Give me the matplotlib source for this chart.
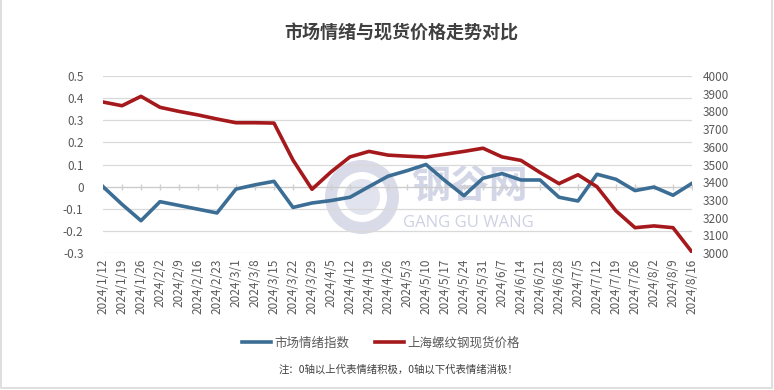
import matplotlib
matplotlib.use("Agg")
import matplotlib.pyplot as plt
from matplotlib.patches import Circle, Wedge
import numpy as np

plt.rcParams['font.family'] = ['Noto Sans CJK SC', 'DejaVu Sans']

dates = ["2024/1/12", "2024/1/19", "2024/1/26", "2024/2/2", "2024/2/9", "2024/2/16",
         "2024/2/23", "2024/3/1", "2024/3/8", "2024/3/15", "2024/3/22", "2024/3/29",
         "2024/4/5", "2024/4/12", "2024/4/19", "2024/4/26", "2024/5/3", "2024/5/10",
         "2024/5/17", "2024/5/24", "2024/5/31", "2024/6/7", "2024/6/14", "2024/6/21",
         "2024/6/28", "2024/7/5", "2024/7/12", "2024/7/19", "2024/7/26", "2024/8/2",
         "2024/8/9", "2024/8/16"]

sentiment = [0.0, -0.08, -0.154, -0.068, -0.085, -0.102, -0.119, -0.011, 0.008, 0.024,
             -0.094, -0.074, -0.063, -0.048, 0.0, 0.047, 0.072, 0.100, 0.027, -0.041,
             0.038, 0.059, 0.030, 0.030, -0.048, -0.065, 0.056, 0.033, -0.018, -0.002,
             -0.039, 0.015]

price = [3853, 3832, 3885, 3823, 3800, 3780, 3757, 3736, 3736, 3734, 3525, 3360,
         3458, 3543, 3574, 3553, 3547, 3542, 3558, 3574, 3592, 3543, 3523, 3455,
         3392, 3442, 3374, 3238, 3143, 3153, 3143, 3005]

left_ticks = [-0.3, -0.2, -0.1, 0, 0.1, 0.2, 0.3, 0.4, 0.5]
left_labels = ["-0.3", "-0.2", "-0.1", "0", "0.1", "0.2", "0.3", "0.4", "0.5"]
right_ticks = [3000, 3100, 3200, 3300, 3400, 3500, 3600, 3700, 3800, 3900, 4000]

title = "市场情绪与现货价格走势对比"
name_sent = "市场情绪指数"
name_price = "上海螺纹钢现货价格"
note = "注：0轴以上代表情绪积极，0轴以下代表情绪消极！"

BLUE = "#3c6e95"
RED = "#a5191c"
GRID = "#d9d9d9"
TXT = "#595959"

W, H = 774, 390
fig = plt.figure(figsize=(W / 100, H / 100), dpi=100)
ax = fig.add_axes([103 / W, 1 - 253 / H, (692 - 103) / W, (253 - 76) / H])
ax2 = ax.twinx()

x = np.arange(len(dates))

# watermark layer (behind lines)
wm = "#c9cce0"
ax_wm = fig.add_axes([0, 0, 1, 1], zorder=0.5)
ax_wm.set_xlim(0, W)
ax_wm.set_ylim(H, 0)
ax_wm.axis('off')
ax_wm.patch.set_alpha(0)
ax_wm.add_patch(Wedge((362, 197), 37, 0, 360, width=12, color=wm, alpha=0.7, lw=0))
ax_wm.add_patch(Circle((362, 197), 18, color=wm, alpha=0.55, lw=0))
ax_wm.text(469, 186, "钢谷网", fontsize=28, color=wm, alpha=0.8, ha='center', va='center',
           fontweight='bold')
ax_wm.text(468, 223, "GANG GU WANG", fontsize=12, color=wm, alpha=0.9, ha='center',
           va='center', family=['Open Sans', 'DejaVu Sans'])

for a in (ax, ax2):
    a.set_zorder(1)
    a.patch.set_visible(False)

ax.set_ylim(-0.3, 0.5)
ax.set_xlim(0, len(dates) - 1)
ax.set_yticks(left_ticks)
ax.set_yticklabels(left_labels)
for t in left_ticks:
    if t != 0:
        ax.axhline(t, color=GRID, lw=0.9, zorder=0)
ax.axhline(0, color="#cccccc", lw=1.0, zorder=0)
# tick marks on zero axis
ax.plot(x, np.zeros_like(x), linestyle='none', marker='|', markersize=5,
        color="#d0d0d0", zorder=0)

ax2.set_ylim(3000, 4000)
ax2.set_yticks(right_ticks)

ax.set_xticks(x)
ax.set_xticklabels(dates, rotation=90, fontsize=8, color=TXT)

for a in (ax, ax2):
    for s in a.spines.values():
        s.set_visible(False)
    a.tick_params(length=0, colors=TXT, labelsize=8.5)
ax.tick_params(axis='y', pad=14)
ax2.tick_params(axis='y', pad=8)
ax.tick_params(axis='x', pad=4)

l1, = ax.plot(x, sentiment, color=BLUE, lw=2.6, solid_joinstyle='round', zorder=3)
l2, = ax2.plot(x, price, color=RED, lw=2.6, solid_joinstyle='round', zorder=3)

fig.text(401 / W, 1 - 33 / H, title, ha='center', va='center', fontsize=13,
         fontweight='bold', color="#404040")

fig.legend([l1, l2], [name_sent, name_price], loc='center', ncol=2,
           bbox_to_anchor=(381 / W, 1 - 343 / H), frameon=False, fontsize=9,
           handlelength=2.3, columnspacing=2.0, handletextpad=0.3,
           labelcolor=TXT)

fig.text(398 / W, 1 - 370 / H, note, ha='center', va='center', fontsize=7.5, color="#404040")

# border
ax_wm.plot([1, 1, 772, 772], [0, 388, 388, 0], color="#d9d9d9", lw=1.2)

fig.savefig("out.png", dpi=100, facecolor='white')
